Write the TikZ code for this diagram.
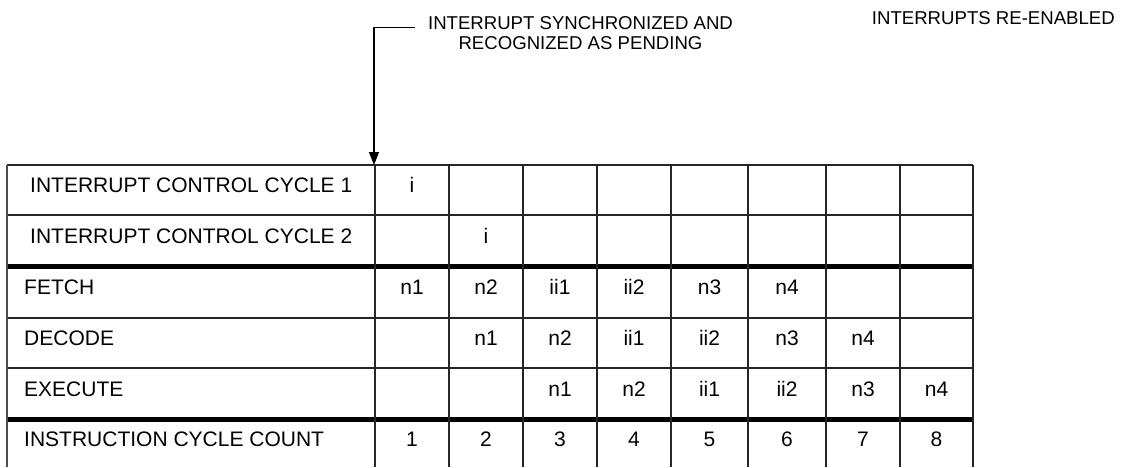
\documentclass[tikz,border=0pt]{standalone}
\usepackage{fontspec}
\setmainfont{Liberation Sans}
\usetikzlibrary{arrows.meta}
\begin{document}
\begin{tikzpicture}[x=1pt,y=-1pt,
  grid/.style={line width=1.3pt,draw=black!85},
  thick rule/.style={line width=5pt,draw=black},
  rowlabel/.style={anchor=west,inner sep=0pt,font=\fontsize{21}{24}\selectfont,text height=0.716em,text depth=0pt},
  cell/.style={anchor=center,inner sep=0pt,font=\fontsize{21}{24}\selectfont,text height=0.716em,text depth=0pt},
  note/.style={inner sep=0pt,font=\fontsize{18.6}{20}\selectfont,align=center},
  pointer/.style={line width=1.3pt,-{Triangle[length=13pt,width=10pt]}}]
\useasboundingbox (0,0) rectangle (1128,467);
% grid
\draw[grid] (7,165) -- (973,165);
\draw[grid] (7,215) -- (973,215);
\draw[grid] (7,318) -- (973,318);
\draw[grid] (7,368) -- (973,368);
\draw[thick rule] (7,266) -- (973,266);
\draw[thick rule] (7,419) -- (973,419);
\draw[line width=2pt,draw=black!70] (7,165) -- (7,467);
\foreach \x in {375,449,523,597,671,748,826,900,973}
  \draw[grid] (\x,165) -- (\x,467);
% row labels
\node[rowlabel] (l1) at (30,189) {INTERRUPT CONTROL CYCLE 1};
\node[rowlabel] (l2) at (30,240) {INTERRUPT CONTROL CYCLE 2};
\node[rowlabel] (l3) at (24,291) {FETCH};
\node[rowlabel] (l4) at (24,342) {DECODE};
\node[rowlabel] (l5) at (24,393) {EXECUTE};
\node[rowlabel] (l6) at (24,443) {INSTRUCTION CYCLE COUNT};
% cells
\node[cell] (c11) at (412,189) {i};
\node[cell] (c22) at (486,240) {i};
\foreach \t [count=\i] in {n1,n2,ii1,ii2,n3,n4}{
  \pgfmathsetmacro\cx{{412,486,560,634,709.5,787,863,936.5}[\i-1]}
  \node[cell] (f\i) at (\cx,291) {\t};}
\foreach \t [count=\i] in {n1,n2,ii1,ii2,n3,n4}{
  \pgfmathsetmacro\cx{{412,486,560,634,709.5,787,863,936.5}[\i]}
  \node[cell] (d\i) at (\cx,342) {\t};}
\foreach \t [count=\i] in {n1,n2,ii1,ii2,n3,n4}{
  \pgfmathsetmacro\cx{{412,486,560,634,709.5,787,863,936.5}[\i+1]}
  \node[cell] (e\i) at (\cx,393) {\t};}
\foreach \t [count=\i] in {1,...,8}{
  \pgfmathsetmacro\cx{{412,486,560,634,709.5,787,863,936.5}[\i-1]}
  \node[cell] (n\i) at (\cx,443) {\t};}
% notes
\node[note] (sync) at (580.5,33) {INTERRUPT SYNCHRONIZED AND\\RECOGNIZED AS PENDING};
\node[note,anchor=east] (reen) at (1115,18) {INTERRUPTS RE-ENABLED};
% pointer
\coordinate (pstart) at (415,27.5);
\coordinate (pbend) at (374,27.5);
\coordinate (ptip) at (374,165);
\draw[pointer] (pstart) -- (pbend) -- (ptip);
\end{tikzpicture}
\end{document}
